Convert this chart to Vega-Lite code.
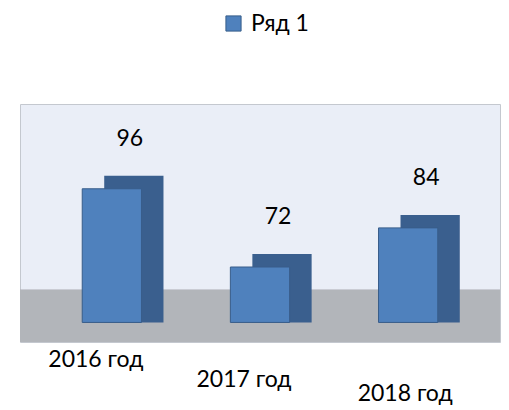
{
  "$schema": "https://vega.github.io/schema/vega-lite/v6.json",
  "width": 509,
  "height": 410,
  "autosize": {"type": "fit", "contains": "padding"},
  "padding": {"left": 20, "right": 9, "top": 104, "bottom": 5},
  "config": {
    "font": "Lato",
    "view": {"fill": "#EAEEF7", "stroke": "#C4C8CF"},
    "legend": {"labelFontSize": 23, "labelFont": "Lato", "labelColor": "#000000", "symbolSize": 230, "symbolType": "square", "symbolStrokeColor": "#385D8A", "symbolStrokeWidth": 1, "labelOffset": 6}
  },
  "data": {"values": [
    {"category": "2016 год", "value": 96, "series": "Ряд 1"},
    {"category": "2017 год", "value": 72, "series": "Ряд 1"},
    {"category": "2018 год", "value": 84, "series": "Ряд 1"}
  ]},
  "encoding": {
    "x": {"field": "category", "type": "nominal", "sort": null,
      "scale": {"paddingInner": 0.6, "paddingOuter": 0.42},
      "axis": {"title": null, "labelAngle": 0, "labelFontSize": 23, "labelColor": "#000000", "ticks": false, "domain": false,
        "labelOffset": {"condition": {"test": "datum.value == '2018 год'", "value": -3}, "value": -16},
        "labelPadding": {"condition": [{"test": "datum.value == '2016 год'", "value": 6}, {"test": "datum.value == '2017 год'", "value": 26}], "value": 40}}}
  },
  "layer": [
    {
      "mark": {"type": "rect", "color": "#B2B5BA"},
      "encoding": {
        "x": null,
        "y": {"datum": 49, "type": "quantitative", "scale": {"domain": [49, 122], "nice": false, "zero": false}, "axis": null},
        "y2": {"datum": 65}
      }
    },
    {
      "mark": {"type": "bar", "color": "#3A5F8E", "xOffset": 22, "yOffset": -13},
      "encoding": {
        "y": {"field": "value", "type": "quantitative"},
        "y2": {"datum": 55}
      }
    },
    {
      "mark": {"type": "bar", "stroke": "#385D8A", "strokeWidth": 1},
      "encoding": {
        "y": {"field": "value", "type": "quantitative"},
        "y2": {"datum": 55},
        "color": {"field": "series", "type": "nominal", "scale": {"range": ["#4F81BD"]},
          "legend": {"title": null, "orient": "none", "legendX": 202, "legendY": -92}}
      }
    },
    {
      "mark": {"type": "text", "fontSize": 23, "dy": -50, "dx": 18, "color": "#000000"},
      "encoding": {
        "y": {"field": "value", "type": "quantitative"},
        "text": {"field": "value", "type": "quantitative"}
      }
    }
  ]
}
